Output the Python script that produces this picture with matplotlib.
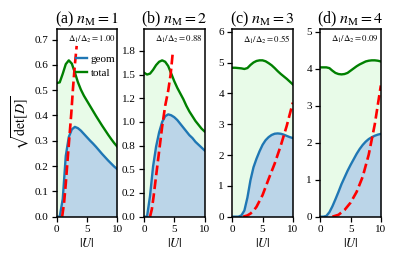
import matplotlib
matplotlib.use('Agg')
import matplotlib.pyplot as plt
from matplotlib.ticker import MultipleLocator, FormatStrFormatter

plt.rcParams['font.family'] = 'serif'
plt.rcParams['font.serif'] = ['Liberation Serif', 'DejaVu Serif']
plt.rcParams['mathtext.fontset'] = 'stix'

# |U| grid shared by the geom / total curves
u = [0.0, 0.5, 1.0, 1.5, 2.0, 2.5, 3.0, 3.5, 4.0, 4.5, 5.0,
     5.5, 6.0, 6.5, 7.0, 7.5, 8.0, 8.5, 9.0, 9.5, 10.0]

# (a) n_M = 1
total_a = [0.528, 0.531, 0.565, 0.603, 0.618, 0.605, 0.570, 0.532, 0.502, 0.478, 0.458,
           0.438, 0.418, 0.398, 0.379, 0.360, 0.342, 0.324, 0.307, 0.291, 0.277]
geom_a = [0.0, 0.0, 0.07, 0.24, 0.315, 0.345, 0.355, 0.350, 0.340, 0.327, 0.314,
          0.301, 0.289, 0.276, 0.262, 0.248, 0.235, 0.222, 0.210, 0.198, 0.188]
u_red_a = [0.9, 1.2, 1.5, 1.8, 2.1, 2.4, 2.7, 3.0, 3.3]
red_a = [0.0, 0.05, 0.13, 0.225, 0.315, 0.405, 0.51, 0.60, 0.675]

# (b) n_M = 2
total_b = [1.52, 1.50, 1.51, 1.55, 1.60, 1.635, 1.65, 1.635, 1.59, 1.51, 1.43,
           1.36, 1.30, 1.24, 1.17, 1.11, 1.06, 1.01, 0.97, 0.93, 0.90]
geom_b = [0.0, 0.0, 0.22, 0.53, 0.74, 0.89, 1.00, 1.06, 1.08, 1.07, 1.05,
          1.02, 0.98, 0.94, 0.90, 0.86, 0.83, 0.79, 0.76, 0.73, 0.70]
u_red_b = [1.0, 1.3, 1.6, 2.0, 2.5, 3.0, 3.5, 4.0, 4.4, 4.75]
red_b = [0.0, 0.08, 0.22, 0.43, 0.69, 0.95, 1.17, 1.33, 1.50, 1.73]

# (c) n_M = 3
total_c = [4.83, 4.83, 4.82, 4.81, 4.79, 4.82, 4.92, 5.00, 5.05, 5.07, 5.07,
           5.04, 4.98, 4.91, 4.82, 4.72, 4.63, 4.55, 4.47, 4.38, 4.29]
geom_c = [0.0, 0.0, 0.0, 0.04, 0.20, 0.62, 1.18, 1.60, 1.88, 2.12, 2.33,
          2.48, 2.58, 2.65, 2.69, 2.70, 2.69, 2.66, 2.62, 2.58, 2.55]
u_red_c = [1.8, 2.5, 3.0, 3.5, 4.0, 5.0, 6.0, 7.0, 8.0, 9.0, 10.0]
red_c = [0.0, 0.04, 0.10, 0.19, 0.32, 0.70, 1.22, 1.72, 2.30, 2.95, 3.70]

# (d) n_M = 4
total_d = [4.04, 4.04, 4.04, 4.02, 3.95, 3.89, 3.86, 3.85, 3.86, 3.89, 3.95,
           4.01, 4.07, 4.12, 4.16, 4.20, 4.22, 4.23, 4.23, 4.22, 4.20]
geom_d = [0.0, 0.0, 0.02, 0.12, 0.28, 0.47, 0.67, 0.88, 1.06, 1.24, 1.40,
          1.55, 1.70, 1.83, 1.94, 2.03, 2.10, 2.15, 2.19, 2.22, 2.24]
u_red_d = [2.0, 3.0, 4.0, 5.0, 6.0, 7.0, 8.0, 9.0, 10.0]
red_d = [0.0, 0.05, 0.18, 0.38, 0.67, 1.08, 1.68, 2.50, 3.55]

titles = ['(a) $n_\\mathrm{M}=1$', '(b) $n_\\mathrm{M}=2$',
          '(c) $n_\\mathrm{M}=3$', '(d) $n_\\mathrm{M}=4$']
ratios = ['1.00', '0.88', '0.55', '0.09']
ystep = [0.1, 0.25, 1, 1]

panels = [(total_a, geom_a, u_red_a, red_a),
          (total_b, geom_b, u_red_b, red_b),
          (total_c, geom_c, u_red_c, red_c),
          (total_d, geom_d, u_red_d, red_d)]

fig = plt.figure(figsize=(3.97, 2.62), dpi=100)
lefts = [0.1428, 0.3627, 0.5851, 0.8068]

for i, (tot, geo, ur, red) in enumerate(panels):
    ax = fig.add_axes([lefts[i], 0.173, 0.1525, 0.716])
    ax.fill_between(u, geo, tot, color='#90ee90', alpha=0.2, lw=0)
    ax.fill_between(u, 0, geo, color='#1f77b4', alpha=0.3, lw=0)
    ax.plot(u, geo, color='#1f77b4', lw=1.7, label='geom')
    ax.plot(u, tot, color='green', lw=1.7, label='total')
    ax.plot(ur, red, color='red', lw=1.9, ls='--')
    ax.set_xlim(0, 10)
    ax.set_ylim(0, 1.2 * max(tot))
    ax.set_xticks([0, 5, 10])
    ax.yaxis.set_major_locator(MultipleLocator(ystep[i]))
    if i < 2:
        ax.yaxis.set_major_formatter(FormatStrFormatter('%.1f'))
    ax.tick_params(labelsize=8, length=3.5, width=0.9, pad=2.5)
    for s in ax.spines.values():
        s.set_linewidth(1.1)
    ax.set_xlabel('$|U|$', fontsize=9, labelpad=2)
    ax.set_title(titles[i], fontsize=11.5, pad=3)
    ax.text(0.97, 0.975, '$\\Delta_1/\\Delta_2=' + ratios[i] + '$',
            transform=ax.transAxes, ha='right', va='top', fontsize=6.3)
    if i == 0:
        ax.set_ylabel('$\\sqrt{\\det[D]}$', fontsize=10, labelpad=2)
        ax.legend(loc='upper right', bbox_to_anchor=(1.08, 0.9), frameon=False,
                  fontsize=8, handlelength=1.0, handletextpad=0.3,
                  labelspacing=0.35, borderaxespad=0.2)

fig.savefig('out.png', dpi=100)
